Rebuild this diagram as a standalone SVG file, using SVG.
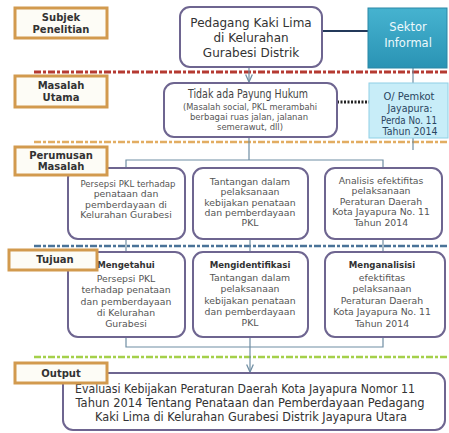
<svg xmlns="http://www.w3.org/2000/svg" width="449" height="433" viewBox="0 0 449 433">
<defs>
<style>
text{font-family:"DejaVu Sans","Liberation Sans",sans-serif;fill:#3a3a3a;text-anchor:middle}
.lbl rect{fill:#fdfcf6;stroke:#d29a4e;stroke-width:3}
.lbl text{font-weight:bold;font-size:10px;fill:#333}
.nd{fill:#fff;stroke:#6e6590;stroke-width:2}
.sm{font-size:9.3px;fill:#555}
.md{font-size:12px;fill:#333}
.b{font-weight:bold;fill:#333;font-size:8.6px}
.pk{font-size:10px;fill:#2a4560}
.cn{stroke:#6f8ea3;stroke-width:1.2;fill:none}
</style>
<linearGradient id="teal" x1="0" y1="0" x2="0" y2="1">
<stop offset="0" stop-color="#46b3d0"/><stop offset="1" stop-color="#2a93b4"/>
</linearGradient>
<marker id="ar" viewBox="0 0 10 10" refX="9" refY="5" markerWidth="7" markerHeight="7" orient="auto">
<path d="M0,1 L9,5 L0,9" fill="none" stroke="#6f8ea3" stroke-width="1.5"/>
</marker>
</defs>
<rect width="449" height="433" fill="#fff"/>

<g id="separators" fill="none">
<line x1="34" y1="72" x2="449" y2="72" stroke="#b53a32" stroke-width="3" stroke-dasharray="7 2 3 2"/>
<line x1="34" y1="142" x2="449" y2="142" stroke="#e2ad62" stroke-width="2.5" stroke-dasharray="7 2 3 2"/>
<line x1="34" y1="246" x2="449" y2="246" stroke="#4a7398" stroke-width="2.5" stroke-dasharray="7 2 3 2"/>
<line x1="34" y1="357" x2="449" y2="357" stroke="#a4d04a" stroke-width="2.5" stroke-dasharray="7 2 3 2"/>
</g>

<g id="connectors">
<line x1="322" y1="31" x2="368" y2="31" stroke="#23395a" stroke-width="2"/>
<line class="cn" x1="249" y1="67" x2="249" y2="82" marker-end="url(#ar)"/>
<line class="cn" x1="413" y1="68" x2="413" y2="83"/>
<line x1="337" y1="102" x2="370" y2="102" stroke="#222" stroke-width="3" stroke-dasharray="2 1.5"/>
<line class="cn" x1="249" y1="137" x2="249" y2="160"/>
<line class="cn" x1="413" y1="137" x2="413" y2="150"/>
<polyline class="cn" points="126,168 126,160 383,160 383,168"/>
<line class="cn" x1="126" y1="239" x2="126" y2="252"/>
<line class="cn" x1="250" y1="239" x2="250" y2="252"/>
<line class="cn" x1="383" y1="239" x2="383" y2="252"/>
<polyline class="cn" points="126,337 126,347 383,347 383,337"/>
<line class="cn" x1="250" y1="337" x2="250" y2="372" marker-end="url(#ar)"/>
</g>

<g id="pedagang"><rect class="nd" x="180" y="7" width="142" height="60" rx="10"/>
<text class="md" x="251" y="27">Pedagang Kaki Lima</text><text class="md" x="251" y="42">di Kelurahan</text><text class="md" x="251" y="57">Gurabesi Distrik</text></g>

<g id="sektor"><rect x="368" y="8" width="79" height="60" fill="url(#teal)" stroke="#2b87a6" stroke-width="1"/>
<text x="408" y="31" style="font-size:11.5px;fill:#eef9fc">Sektor</text><text x="408" y="47" style="font-size:11.5px;fill:#eef9fc">Informal</text></g>

<g id="masalah"><rect class="nd" x="164" y="83" width="173" height="54" rx="10"/>
<text x="248" y="98" style="font-size:11.5px;fill:#444" textLength="120" lengthAdjust="spacingAndGlyphs">Tidak ada Payung Hukum</text>
<text class="sm" x="250" y="110" textLength="134" lengthAdjust="spacingAndGlyphs">(Masalah social, PKL merambahi</text>
<text class="sm" x="249" y="120" textLength="118" lengthAdjust="spacingAndGlyphs">berbagai ruas jalan, jalanan</text>
<text class="sm" x="250" y="130" textLength="66" lengthAdjust="spacingAndGlyphs">semerawut, dll)</text></g>

<g id="pemkot"><rect x="369" y="83" width="79" height="55" fill="#c8edf8" stroke="#8fd0e6" stroke-width="1"/>
<text class="pk" x="409" y="100" textLength="51" lengthAdjust="spacingAndGlyphs">O/ Pemkot</text>
<text class="pk" x="410" y="112" textLength="45" lengthAdjust="spacingAndGlyphs">Jayapura:</text>
<text class="pk" x="409" y="124" textLength="56" lengthAdjust="spacingAndGlyphs">Perda No. 11</text>
<text class="pk" x="410" y="135" textLength="55" lengthAdjust="spacingAndGlyphs">Tahun 2014</text></g>

<g id="rm1"><rect class="nd" x="68" y="168" width="117" height="71" rx="10"/>
<text class="sm" x="128" y="187" textLength="95" lengthAdjust="spacingAndGlyphs">Persepsi PKL terhadap</text><text class="sm" x="126" y="197">penataan dan</text><text class="sm" x="126" y="208">pemberdayaan di</text><text class="sm" x="126" y="218">Kelurahan Gurabesi</text></g>
<g id="rm2"><rect class="nd" x="193" y="168" width="115" height="71" rx="10"/>
<text class="sm" x="250" y="185">Tantangan dalam</text><text class="sm" x="250" y="195">pelaksanaan</text><text class="sm" x="250" y="206">kebijakan penataan</text><text class="sm" x="250" y="216">dan pemberdayaan</text><text class="sm" x="250" y="226">PKL</text></g>
<g id="rm3"><rect class="nd" x="325" y="168" width="117" height="71" rx="10"/>
<text class="sm" x="381" y="184">Analisis efektifitas</text><text class="sm" x="381" y="194">pelaksanaan</text><text class="sm" x="381" y="205">Peraturan Daerah</text><text class="sm" x="381" y="215">Kota Jayapura No. 11</text><text class="sm" x="381" y="226">Tahun 2014</text></g>

<g id="tj1"><rect class="nd" x="68" y="252" width="117" height="85" rx="10"/>
<text class="b" x="126" y="268">Mengetahui</text><text class="sm" x="126" y="282">Persepsi PKL</text><text class="sm" x="126" y="293">terhadap penataan</text><text class="sm" x="126" y="305">dan pemberdayaan</text><text class="sm" x="126" y="316">di Kelurahan</text><text class="sm" x="126" y="327">Gurabesi</text></g>
<g id="tj2"><rect class="nd" x="193" y="252" width="115" height="85" rx="10"/>
<text class="b" x="250" y="268">Mengidentifikasi</text><text class="sm" x="250" y="281">Tantangan dalam</text><text class="sm" x="250" y="292">pelaksanaan</text><text class="sm" x="250" y="304">kebijakan penataan</text><text class="sm" x="250" y="315">dan pemberdayaan</text><text class="sm" x="250" y="326">PKL</text></g>
<g id="tj3"><rect class="nd" x="325" y="252" width="120" height="85" rx="10"/>
<text class="b" x="382" y="268">Menganalisisi</text><text class="sm" x="382" y="281">efektifitas</text><text class="sm" x="382" y="292">pelaksanaan</text><text class="sm" x="382" y="304">Peraturan Daerah</text><text class="sm" x="382" y="315">Kota Jayapura No. 11</text><text class="sm" x="382" y="327">Tahun 2014</text></g>

<g id="evaluasi"><rect class="nd" x="63" y="373" width="382" height="57" rx="10"/>
<text class="md" x="245" y="393" textLength="340" lengthAdjust="spacingAndGlyphs">Evaluasi Kebijakan Peraturan Daerah Kota Jayapura Nomor 11</text>
<text class="md" x="250" y="407" textLength="349" lengthAdjust="spacingAndGlyphs">Tahun 2014 Tentang Penataan dan Pemberdayaan Pedagang</text>
<text class="md" x="251" y="421" textLength="312" lengthAdjust="spacingAndGlyphs">Kaki Lima di Kelurahan Gurabesi Distrik Jayapura Utara</text></g>

<g id="lbl-subjek" class="lbl"><rect x="15" y="8" width="92" height="30"/><text x="61" y="21">Subjek</text><text x="61" y="33">Penelitian</text></g>
<g id="lbl-masalah" class="lbl"><rect x="15" y="76" width="92" height="31"/><text x="61" y="89">Masalah</text><text x="61" y="101">Utama</text></g>
<g id="lbl-perumusan" class="lbl"><rect x="15" y="147" width="92" height="28"/><text x="61" y="159">Perumusan</text><text x="61" y="170">Masalah</text></g>
<g id="lbl-tujuan" class="lbl"><rect x="9" y="250" width="88" height="20"/><text x="55" y="263">Tujuan</text></g>
<g id="lbl-output" class="lbl"><rect x="15" y="363" width="92" height="20"/><text x="61" y="377">Output</text></g>
</svg>
